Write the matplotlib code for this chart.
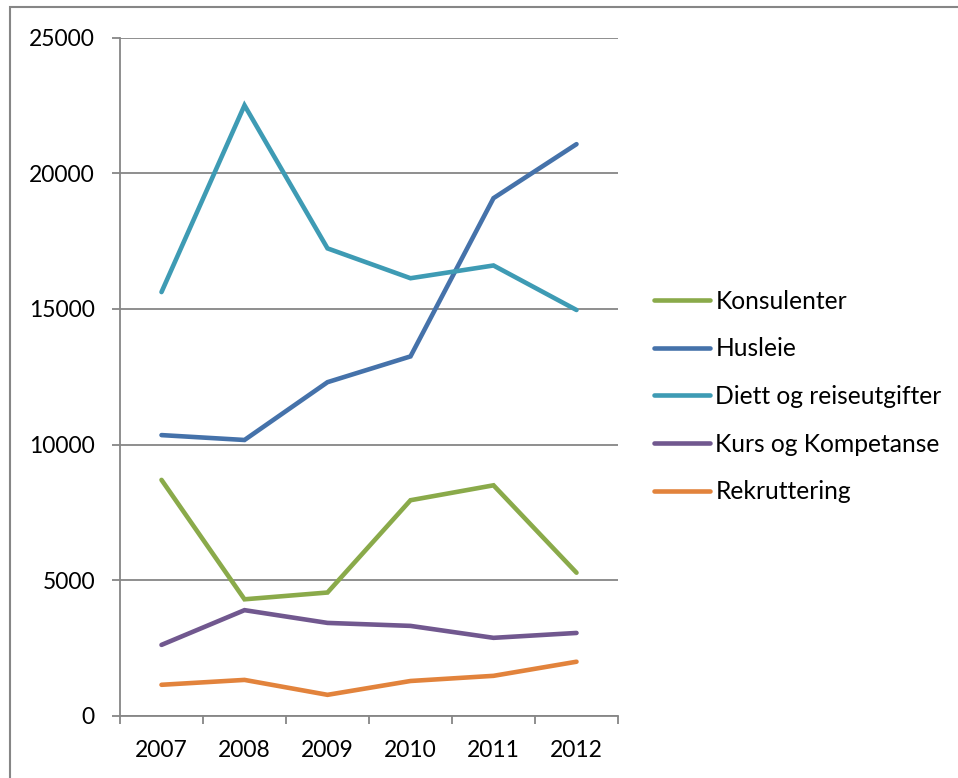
import matplotlib
matplotlib.use("Agg")
import matplotlib.pyplot as plt
from matplotlib.patches import Rectangle

# data
years = ["2007", "2008", "2009", "2010", "2011", "2012"]
konsulenter = [8700, 4300, 4550, 7950, 8500, 5280]
husleie = [10350, 10170, 12300, 13250, 19080, 21070]
diett = [15620, 22500, 17230, 16130, 16600, 14960]
kurs = [2620, 3900, 3430, 3320, 2880, 3060]
rekruttering = [1150, 1330, 780, 1290, 1480, 2000]

series = [
    ("Konsulenter", konsulenter, "#8AAA4A"),
    ("Husleie", husleie, "#4572AA"),
    ("Diett og reiseutgifter", diett, "#3E9BB4"),
    ("Kurs og Kompetanse", kurs, "#71588F"),
    ("Rekruttering", rekruttering, "#E2833C"),
]

plt.rcParams["font.family"] = ["Lato", "DejaVu Sans"]
plt.rcParams["font.size"] = 16.5

fig = plt.figure(figsize=(9.58, 7.78), dpi=100)
ax = fig.add_axes([120 / 958, 1 - 716 / 778, 498 / 958, 678.5 / 778])

x = list(range(len(years)))
for name, vals, col in series:
    ax.plot(x, vals, color=col, lw=3.3, label=name,
            solid_capstyle="round", solid_joinstyle="miter", zorder=3)

grid_col = "#868686"
ax.set_xlim(-0.5, len(years) - 0.5)
ax.set_ylim(0, 25000)
ax.set_yticks(range(0, 25001, 5000))
ax.yaxis.grid(True, color=grid_col, lw=1.3)
ax.set_axisbelow(True)

ax.set_xticks(x)
ax.set_xticklabels(years)
ax.set_xticks([i - 0.5 for i in range(len(years) + 1)], minor=True)
ax.tick_params(axis="x", which="major", length=0, pad=17)
ax.tick_params(axis="x", which="minor", length=6, width=1.3, color=grid_col)
ax.tick_params(axis="y", length=6, width=1.3, color=grid_col, pad=12)

for s in ["top", "right"]:
    ax.spines[s].set_visible(False)
for s in ["left", "bottom"]:
    ax.spines[s].set_color(grid_col)
    ax.spines[s].set_linewidth(1.3)

leg = fig.legend(loc="upper left", bbox_to_anchor=(644 / 958, 1 - 280 / 778),
                 frameon=False, fontsize=17.7, handlelength=2.3,
                 handletextpad=0.2, labelspacing=1.0, borderaxespad=0)

# chart area border (runs past the right and bottom edge)
fig.patches.append(Rectangle((10 / 958, -0.1), 1.2, 1.1 - 7.5 / 778,
                             transform=fig.transFigure, fill=False,
                             edgecolor=grid_col, lw=1.5))

fig.savefig("out.png", dpi=100)
